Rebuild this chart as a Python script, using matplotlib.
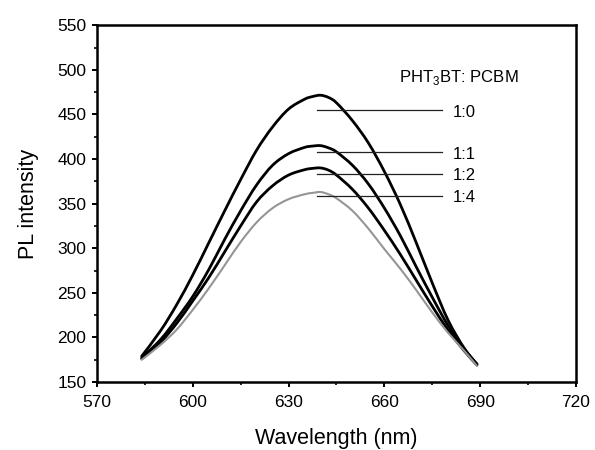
import numpy as np
import matplotlib.pyplot as plt
from matplotlib.path import Path
from matplotlib.patches import PathPatch
from matplotlib.ticker import MultipleLocator

plt.rcParams['font.family'] = ['Liberation Sans', 'DejaVu Sans']
plt.rcParams['mathtext.fontset'] = 'custom'
plt.rcParams['mathtext.rm'] = 'Liberation Sans'

wavelength = [584, 590, 595, 600, 605, 610, 615, 620, 625, 630, 635, 637.5,
              640, 642.5, 645, 650, 655, 660, 665, 670, 675, 680, 685, 689]

pl_10 = [179, 208, 237, 270, 306, 342, 377, 410, 436, 456, 467, 470,
         471.5, 469, 463, 443, 418, 386, 349, 306, 261, 219, 188, 170]
pl_11 = [177, 198, 221, 246, 276, 310, 342, 371, 393, 406, 413, 414.5,
         415, 412.5, 408, 393, 372, 345, 314, 279, 245, 213, 187, 170]
pl_12 = [176, 195, 216, 241, 267, 296, 325, 352, 370, 382, 388, 389.5,
         390, 387.5, 382, 366, 345, 320, 293, 264, 235, 208, 185, 169]
pl_14 = [175, 192, 209, 231, 255, 281, 307, 329, 345, 355, 360.5, 362,
         363, 360.5, 356, 342, 322, 299, 277, 253, 228, 205, 185, 168]

ratio_labels = ['1:0', '1:1', '1:2', '1:4']
leader_levels = [455, 408, 383, 358]
label_levels = [452, 405, 381, 357]


def smooth_line(ax, x, y, **kw):
    # Catmull-Rom through the points, drawn as cubic Bezier segments
    x = np.asarray(x, float)
    y = np.asarray(y, float)
    pts = np.column_stack([x, y])
    ext = np.vstack([pts[0], pts, pts[-1]])
    verts = [pts[0]]
    codes = [Path.MOVETO]
    for i in range(len(pts) - 1):
        p0, p1, p2, p3 = ext[i], ext[i + 1], ext[i + 2], ext[i + 3]
        c1 = p1 + (p2 - p0) / 6.0
        c2 = p2 - (p3 - p1) / 6.0
        verts += [c1, c2, p2]
        codes += [Path.CURVE4] * 3
    ax.add_patch(PathPatch(Path(verts, codes), fill=False,
                           capstyle='round', joinstyle='round', **kw))


fig = plt.figure(figsize=(5.95, 4.5), dpi=100)
ax = fig.add_axes([0.163, 0.151, 0.805, 0.793])

smooth_line(ax, wavelength, pl_10, edgecolor='black', lw=2.0)
smooth_line(ax, wavelength, pl_11, edgecolor='black', lw=2.0)
smooth_line(ax, wavelength, pl_12, edgecolor='black', lw=2.0)
smooth_line(ax, wavelength, pl_14, edgecolor='#959595', lw=1.5)

# leader lines + ratio labels
for lab, lev, tlev in zip(ratio_labels, leader_levels, label_levels):
    ax.plot([639, 678], [lev, lev], color='#222222', lw=0.9)
    ax.text(681.5, tlev, lab, fontsize=12, va='center', ha='left')

ax.text(664.5, 486, r'PHT$_3$BT: PCBM', fontsize=12, va='baseline', ha='left')

ax.set_xlim(570, 720)
ax.set_ylim(150, 550)
ax.xaxis.set_major_locator(MultipleLocator(30))
ax.xaxis.set_minor_locator(MultipleLocator(15))
ax.yaxis.set_major_locator(MultipleLocator(50))
ax.yaxis.set_minor_locator(MultipleLocator(25))
ax.tick_params(which='major', direction='out', length=3.6, width=1.4,
               labelsize=12.5, pad=4)
ax.tick_params(axis='x', which='major', pad=6)
ax.tick_params(which='minor', direction='out', length=2.2, width=1.2)
for sp in ax.spines.values():
    sp.set_linewidth(1.8)

ax.set_xlabel('Wavelength (nm)', fontsize=15.5, labelpad=13)
ax.set_ylabel('PL intensity', fontsize=15.5, labelpad=13)

fig.savefig('out.png', dpi=100)
